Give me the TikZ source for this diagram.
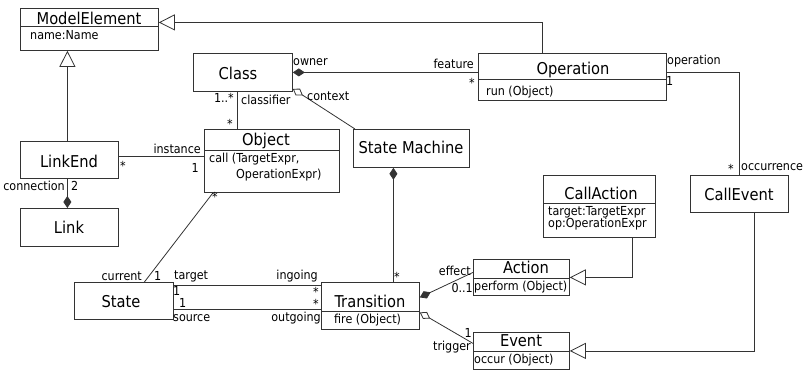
\documentclass[tikz,border=0pt]{standalone}
\usepackage{fontspec}
\setmainfont{DejaVu Sans Condensed}
\usetikzlibrary{arrows.meta,positioning}
\tikzset{x=1pt,y=-1pt,
  cls/.style={draw=black!80,line width=0.8pt,inner sep=0pt,anchor=north west},
  clsname/.style={inner sep=0pt,anchor=base,font=\fontsize{16.3}{18}\selectfont},
  attr/.style={inner sep=0pt,anchor=base west,font=\fontsize{12.4}{14}\selectfont},
  rolew/.style={inner sep=0pt,anchor=base west,font=\fontsize{12.4}{14}\selectfont},
  rolee/.style={inner sep=0pt,anchor=base east,font=\fontsize{12.4}{14}\selectfont},
  assoc/.style={draw=black!80,line width=0.8pt},
  gen/.style={assoc,-{Triangle[open,length=16pt,width=16pt]}},
  comp/.style={assoc,{Diamond[length=12pt,width=8pt]}-},
  aggr/.style={assoc,{Diamond[open,length=12pt,width=8pt]}-}}

\begin{document}
\begin{tikzpicture}
        \useasboundingbox (0,0) rectangle (803,370);

        % classes
        \node [cls,minimum width=138pt,minimum height=42pt] (modelelement) at (20,8) {};
        \node [cls,minimum width=99pt,minimum height=38pt]  (class)        at (193,53) {};
        \node [cls,minimum width=188pt,minimum height=47pt] (operation)    at (478,53) {};
        \node [cls,minimum width=98pt,minimum height=37pt]  (linkend)      at (20,141) {};
        \node [cls,minimum width=98pt,minimum height=38pt]  (link)         at (20,208) {};
        \node [cls,minimum width=135pt,minimum height=63pt] (object)       at (204,129) {};
        \node [cls,minimum width=116pt,minimum height=38pt] (statemachine) at (353,129) {};
        \node [cls,minimum width=99pt,minimum height=37pt]  (state)        at (74,282) {};
        \node [cls,minimum width=98pt,minimum height=47pt]  (transition)   at (321,282) {};
        \node [cls,minimum width=112pt,minimum height=62pt] (callaction)   at (543,175) {};
        \node [cls,minimum width=98pt,minimum height=37pt]  (callevent)    at (690,175) {};
        \node [cls,minimum width=96pt,minimum height=36pt]  (action)       at (473,259) {};
        \node [cls,minimum width=96pt,minimum height=37pt]  (event)        at (473,332) {};

        % compartments
        \draw [assoc] ([yshift=-18pt]modelelement.north west) -- ([yshift=-18pt]modelelement.north east);
        \draw [assoc] ([yshift=-26pt]operation.north west) -- ([yshift=-26pt]operation.north east);
        \draw [assoc] ([yshift=-21pt]object.north west) -- ([yshift=-21pt]object.north east);
        \draw [assoc] ([yshift=-29pt]transition.north west) -- ([yshift=-29pt]transition.north east);
        \draw [assoc] ([yshift=-28pt]callaction.north west) -- ([yshift=-28pt]callaction.north east);
        \draw [assoc] ([yshift=-19pt]action.north west) -- ([yshift=-19pt]action.north east);
        \draw [assoc] ([yshift=-19pt]event.north west) -- ([yshift=-19pt]event.north east);

        \node [clsname] (modelelement-name) at (89,24)  {ModelElement};
        \node [attr]    (modelelement-attr) at (30,39)  {name:Name};
        \node [clsname] (class-name)        at (238,79) {Class};
        \node [clsname] (operation-name)    at (573,74) {Operation};
        \node [attr]    (operation-op)      at (486,95) {run (Object)};
        \node [clsname] (linkend-name)      at (69,167) {LinkEnd};
        \node [clsname] (link-name)         at (69,233) {Link};
        \node [clsname] (object-name)       at (266,145) {Object};
        \node [attr]    (object-op1)        at (209,162) {call (TargetExpr,};
        \node [attr]    (object-op2)        at (236,178) {OperationExpr)};
        \node [clsname] (statemachine-name) at (411,153) {State Machine};
        \node [clsname] (state-name)        at (121,307) {State};
        \node [clsname] (transition-name)   at (370,307) {Transition};
        \node [attr]    (transition-op)     at (334,323) {fire (Object)};
        \node [clsname] (callaction-name)   at (601,199) {CallAction};
        \node [attr]    (callaction-attr1)  at (548,215) {target:TargetExpr};
        \node [attr]    (callaction-attr2)  at (548,227) {op:OperationExpr};
        \node [clsname] (callevent-name)    at (739,200) {CallEvent};
        \node [clsname] (action-name)       at (526,273) {Action};
        \node [attr]    (action-op)         at (474,290) {perform (Object)};
        \node [clsname] (event-name)        at (521,346) {Event};
        \node [attr]    (event-op)          at (474,363) {occur (Object)};

        % generalizations
        \draw [gen] ([xshift=-30pt]operation.north) |- ([yshift=7pt]modelelement.east);
        \draw [gen] ([xshift=-2pt]linkend.north) -- ([xshift=-2pt]linkend.north |- modelelement.south);
        \draw [gen] ([xshift=33pt]callaction.south) |- (action.east);
        \draw [gen] ([xshift=15pt]callevent.south) |- (event.east);

        % associations
        \draw [comp] (class.east) -- (class.east -| operation.west);
        \draw [aggr] ([yshift=3pt]class.south east) -- ([xshift=2pt]statemachine.north west);
        \draw [comp] ([xshift=-18pt]statemachine.south) -- ([xshift=-18pt]statemachine.south |- transition.north);
        \draw [comp] ([xshift=-2pt]link.north) -- ([xshift=-2pt]linkend.south);
        \draw [assoc] ([yshift=3.5pt]linkend.east) -- ([yshift=3.5pt]linkend.east -| object.west);
        \draw [assoc] ([xshift=-5.5pt]class.south) -- ([xshift=-5.5pt]class.south |- object.north);
        \draw [assoc] ([yshift=4.5pt]operation.east) -| (callevent.north);
        \draw [assoc] ([xshift=20.5pt]state.north) -- ([xshift=9pt]object.south west);
        \draw [assoc] ([yshift=15.5pt]state.east) -- ([yshift=15.5pt]state.east -| transition.west);
        \draw [assoc] ([yshift=-8.5pt]state.east) -- ([yshift=-8.5pt]state.east -| transition.west);
        \draw [comp] ([yshift=8.5pt]transition.east) -- ([yshift=5pt]action.west);
        \draw [aggr] ([yshift=-6.5pt]transition.east) -- ([yshift=7.5pt]event.west);

        % roles and multiplicities
        \node [rolew] (owner)        at (293,65)  {owner};
        \node [rolee] (feature)      at (474,68)  {feature};
        \node [rolee] (feature-m)    at (475,87)  {*};
        \node [rolew] (operation-r)  at (667,64)  {operation};
        \node [rolew] (operation-m)  at (666,85)  {1};
        \node [rolee] (occurrence-m) at (734,173) {*};
        \node [rolew] (occurrence)   at (741,170) {occurrence};
        \node [rolee] (classifier-m) at (234,102) {1..*};
        \node [rolew] (classifier)   at (241,104) {classifier};
        \node [rolee] (object-m)     at (233,128) {*};
        \node [rolew] (context)      at (307,100) {context};
        \node [rolee] (instance)     at (201,153) {instance};
        \node [rolee] (instance-m)   at (199,172) {1};
        \node [rolew] (linkend-m)    at (120,170) {*};
        \node [rolee] (connection)   at (65,190)  {connection};
        \node [rolew] (connection-m) at (71,190)  {2};
        \node [rolee] (current)      at (142,280) {current};
        \node [rolew] (current-m)    at (154,280) {1};
        \node [rolew] (state-m)      at (212,201) {*};
        \node [rolew] (target)       at (174,279) {target};
        \node [rolee] (ingoing)      at (318,279) {ingoing};
        \node [rolew] (target-m)     at (173,295) {1};
        \node [rolee] (ingoing-m)    at (319,296) {*};
        \node [rolew] (source-m)     at (179,307) {1};
        \node [rolee] (outgoing-m)   at (319,308) {*};
        \node [rolew] (source)       at (173,321) {source};
        \node [rolee] (outgoing)     at (321,321) {outgoing};
        \node [rolew] (transition-m) at (394,281) {*};
        \node [rolee] (effect)       at (471,275) {effect};
        \node [rolee] (effect-m)     at (473,292) {0..1};
        \node [rolee] (trigger-m)    at (472,337) {1};
        \node [rolee] (trigger)      at (471,350) {trigger};
      \end{tikzpicture}
\end{document}
